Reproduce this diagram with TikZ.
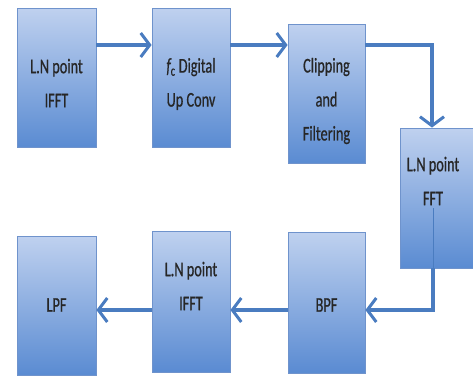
\documentclass[tikz,border=0pt]{standalone}
\usepackage{fontspec}
\newfontfamily\boxfont[FakeStretch=0.68,FakeBold=0.6]{Carlito}
\usetikzlibrary{arrows.meta}
\definecolor{linkblue}{HTML}{4A7CC0}
\definecolor{boxtop}{HTML}{BFD1EF}
\definecolor{boxbot}{HTML}{5A8BD2}
\definecolor{boxedge}{HTML}{6F93CC}
\definecolor{inkgray}{HTML}{262626}
\tikzset{
  stage/.style={rectangle, draw=boxedge, line width=0.8pt,
    top color=boxtop, bottom color=boxbot, inner sep=0pt},
  caption/.style={align=center, text=inkgray,
    font=\boxfont\fontsize{21}{34}\selectfont, inner sep=0pt},
  link/.style={draw=linkblue, line width=4pt,
    -{Straight Barb[length=9pt,width=24pt,line width=3pt]}},
}
\begin{document}
\begin{tikzpicture}[x=1pt,y=-1pt]
  \useasboundingbox (0,0) rectangle (473,375);
  \begin{scope}
    \clip (0,0) rectangle (473,375);
    % processing blocks
    \node[stage, minimum width=79pt, minimum height=139pt] (ifft1) at (56.5,77.5) {};
    \node[stage, minimum width=78pt, minimum height=139pt] (upconv) at (191,77.5) {};
    \node[stage, minimum width=77pt, minimum height=139pt] (clip) at (326.5,93.5) {};
    \node[stage, minimum width=77pt, minimum height=140pt] (fft) at (438.5,198) {};
    \node[stage, minimum width=77pt, minimum height=141pt] (bpf) at (326.5,302.5) {};
    \node[stage, minimum width=78pt, minimum height=141pt] (ifft2) at (191,301.5) {};
    \node[stage, minimum width=79pt, minimum height=139pt] (lpf) at (56.5,305.5) {};

    % block captions
    \node[caption] (t1) at (56.5,83) {L.N point\\IFFT};
    \node[caption] (t2) at (191,84) {{\itshape f}\textsubscript{c} Digital\\Up Conv};
    \node[caption] (t3) at (326.5,101) {Clipping\\and\\Filtering};
    \node[caption] (t4) at (433,181) {L.N point\\FFT};
    \node[caption] (t5) at (326.5,305) {BPF};
    \node[caption] (t6) at (191,286) {L.N point\\IFFT};
    \node[caption] (t7) at (56.5,305) {LPF};

    % signal path
    \coordinate (c1) at (432,45);
    \coordinate (c2) at (433,310);
    \coordinate (c3) at (433,208);
    \draw[link] (ifft1.east |- 0,45) -- (upconv.west |- 0,45);
    \draw[link] (upconv.east |- 0,45) -- (clip.west |- 0,45);
    \draw[link] (clip.east |- c1) -- (c1) -- (c1 |- fft.north);
    \draw[linkblue, line width=1pt] (c3) -- (c3 |- fft.south);
    \draw[link] (c2 |- fft.south) -- (c2) -- (bpf.east |- c2);
    \draw[link] (bpf.west |- c2) -- (ifft2.east |- c2);
    \draw[link] (ifft2.west |- c2) -- (lpf.east |- c2);
  \end{scope}
\end{tikzpicture}
\end{document}
